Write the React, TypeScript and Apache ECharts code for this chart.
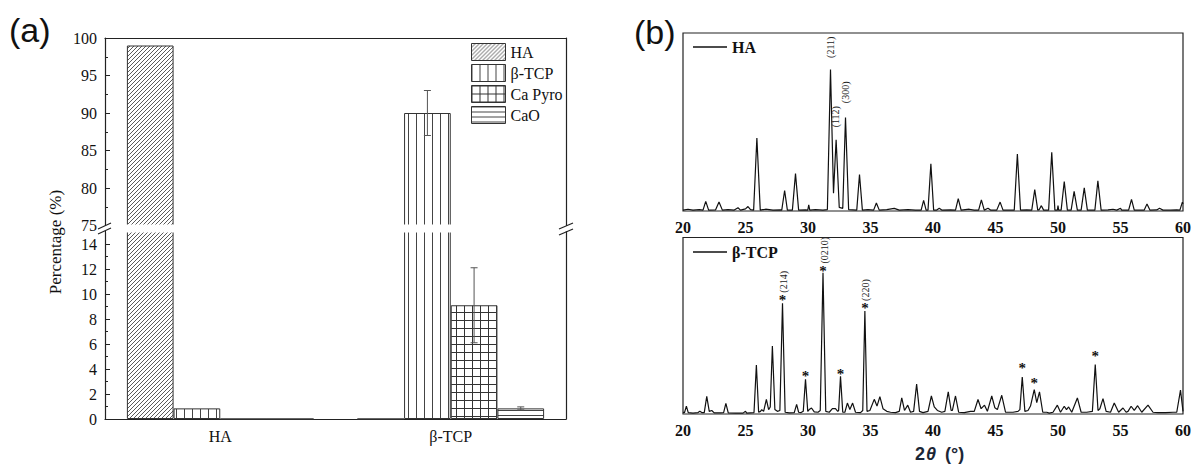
import React, { useEffect, useRef } from 'react';
import * as echarts from 'echarts';

// ---------- Panel (a): phase composition ----------
const categories = ['HA', 'β-TCP'];
const phaseNames = ['HA', 'β-TCP', 'Ca Pyro', 'CaO'];
const haShare = [99, 0];
const tcpShare = [0.85, 90];
const pyroShare = [0, 9.1];
const caoShare = [0, 0.85];
// [category index, phase index, mean, error]
const errorBars = [
  [1, 1, 90, 3],
  [1, 2, 9.1, 3],
  [1, 3, 0.85, 0.12],
];
const upperRange = [75, 100];
const upperInterval = 5;
const lowerRange = [0, 15];
const lowerInterval = 2;

// ---------- Panel (b): XRD patterns ----------
const thetaRange = [20, 60];
const thetaInterval = 5;
const haPattern = [
  [20.0, 0.5], [20.4, 1], [20.8, 0.5], [21.3, 0.8], [21.6, 0.5], [21.82, 5.4], [22.05, 0.5],
  [22.6, 0.6], [22.88, 5], [23.15, 0.5], [23.6, 0.8], [24.1, 0.5], [24.4, 1.8], [24.6, 0.5],
  [25.0, 1.2], [25.2, 2.5], [25.4, 0.8], [25.65, 0.5], [25.91, 41], [26.18, 0.5], [26.6, 1],
  [27.2, 0.5], [27.8, 0.6], [27.9, 0.5], [28.13, 11.5], [28.35, 0.5], [28.75, 0.5], [29.0, 21],
  [29.25, 0.5], [29.8, 0.6], [29.98, 0.5], [30.06, 3.5], [30.14, 0.5], [30.6, 0.8], [31.2, 0.5],
  [31.55, 0.8], [31.8, 79.5], [32.04, 10], [32.25, 40], [32.5, 2], [32.78, 1.5], [33.0, 52.5],
  [33.25, 0.8], [33.9, 0.5], [34.12, 20.5], [34.35, 0.5], [34.8, 0.8], [35.25, 0.5], [35.47, 4.5],
  [35.7, 0.5], [36.3, 0.8], [36.9, 1.5], [37.3, 0.5], [38.0, 0.8], [38.6, 0.5], [39.05, 0.5],
  [39.25, 6], [39.45, 0.5], [39.6, 0.5], [39.83, 26.5], [40.05, 0.5], [40.3, 0.5], [40.5, 1.5],
  [40.7, 0.5], [41.4, 0.6], [41.8, 0.5], [42.02, 7], [42.25, 0.5], [42.9, 1], [43.3, 0.5],
  [43.65, 0.5], [43.87, 6.3], [44.1, 0.5], [44.4, 1.5], [44.6, 0.5], [45.1, 0.5], [45.37, 5],
  [45.6, 0.5], [46.5, 0.5], [46.75, 32], [47.0, 0.5], [47.5, 0.6], [47.9, 0.5], [48.14, 12],
  [48.38, 0.5], [48.5, 0.8], [48.67, 3], [48.85, 0.5], [49.25, 0.5], [49.5, 33], [49.75, 0.5],
  [49.95, 0.5], [50.0, 3], [50.05, 0.5], [50.25, 0.5], [50.5, 16.6], [50.75, 0.5], [51.05, 0.5],
  [51.29, 11], [51.55, 0.5], [51.85, 0.5], [52.1, 13], [52.35, 0.5], [52.95, 0.5], [53.19, 17],
  [53.45, 0.5], [54.0, 0.6], [54.4, 1], [54.7, 0.5], [55.0, 1.5], [55.1, 0.5], [55.65, 0.5],
  [55.88, 6.5], [56.1, 0.5], [56.9, 0.5], [57.12, 4], [57.35, 0.5], [57.9, 0.6], [58.12, 1.5],
  [58.4, 0.5], [59.0, 0.5], [59.5, 0.6], [59.75, 0.5], [59.95, 5], [60.0, 4],
];
const tcpPattern = [
  [20.0, 1], [20.12, 0.8], [20.27, 4.5], [20.42, 0.8], [20.8, 0.5], [21.2, 0.8], [21.35, 1.5],
  [21.5, 0.8], [21.7, 0.8], [21.9, 10], [22.1, 1.5], [22.3, 2], [22.5, 0.6], [23.0, 0.6],
  [23.25, 0.8], [23.43, 6], [23.62, 0.6], [24.2, 0.5], [24.8, 0.5], [25.0, 1.5], [25.1, 0.5],
  [25.68, 0.8], [25.87, 27.7], [26.05, 1], [26.2, 1.5], [26.3, 2.5], [26.45, 1.5], [26.67, 8.3],
  [26.85, 2.5], [26.98, 4], [27.15, 38.5], [27.35, 2.5], [27.55, 1.5], [27.75, 2], [27.96, 62.7],
  [28.17, 1], [28.5, 0.6], [28.9, 0.8], [29.09, 5.5], [29.25, 1], [29.45, 0.8], [29.62, 1.5],
  [29.8, 19.7], [29.98, 1.5], [30.1, 2.5], [30.28, 3.4], [30.5, 1.2], [30.8, 1], [30.98, 2],
  [31.2, 80], [31.42, 1.5], [31.7, 1], [31.95, 3], [32.2, 3], [32.38, 1.5], [32.45, 2],
  [32.6, 21.4], [32.78, 1], [32.95, 1], [33.15, 6.2], [33.35, 2.5], [33.57, 6.2], [33.8, 1],
  [34.2, 0.8], [34.38, 2], [34.55, 58.4], [34.72, 1.5], [34.95, 2], [35.3, 8.3], [35.52, 4.5],
  [35.75, 9.8], [36.0, 3], [36.3, 1.5], [36.6, 1], [37.0, 0.8], [37.3, 1.5], [37.5, 9.1],
  [37.72, 2], [37.98, 5], [38.2, 1], [38.45, 1.5], [38.69, 16.9], [38.92, 1.5], [39.2, 0.8],
  [39.6, 1.5], [39.87, 10.2], [40.1, 4], [40.35, 2], [40.7, 1], [40.95, 1.5], [41.22, 12.5],
  [41.45, 2], [41.55, 2], [41.8, 10.2], [42.05, 1], [42.5, 0.8], [43.0, 1.5], [43.3, 1.5],
  [43.6, 8.2], [43.85, 3], [44.12, 5], [44.35, 1.5], [44.7, 10.2], [44.95, 3.5], [45.15, 2.5],
  [45.5, 10.6], [45.8, 1], [46.4, 1], [46.8, 1.5], [46.95, 2.5], [47.14, 21], [47.35, 1.5],
  [47.6, 2], [47.8, 4.5], [48.1, 13.8], [48.3, 6.5], [48.52, 12.5], [48.78, 1], [49.1, 1],
  [49.3, 0.5], [49.6, 1], [49.95, 5], [50.2, 1], [50.5, 4.4], [50.68, 2.5], [50.85, 4],
  [51.1, 1], [51.55, 9.1], [51.85, 1], [52.3, 1], [52.75, 1.5], [52.98, 28], [53.2, 2],
  [53.35, 3], [53.6, 8.7], [53.85, 1.5], [54.2, 1], [54.5, 6.2], [54.85, 1], [55.2, 3.4],
  [55.45, 1], [55.6, 1.5], [55.85, 4.4], [56.1, 2], [56.37, 4.7], [56.7, 1], [57.2, 5],
  [57.6, 1], [58.0, 0.8], [58.6, 0.8], [59.2, 1], [59.5, 1], [59.8, 13.5], [60.0, 1.5],
];
// peak annotations: [2θ, intensity at label base, text]
const haPlaneLabels = [
  [31.78, 86, '(211)'],
  [32.22, 47, '(112)'],
  [33.0, 60.6, '(300)'],
];
// β-TCP asterisk peaks: [2θ, intensity of asterisk]
const tcpStars = [
  [27.96, 66.5], [29.8, 23.1], [31.2, 83], [32.6, 24.4],
  [34.55, 61.8], [47.14, 27.7], [48.1, 19.5], [52.98, 34.7],
];
const tcpPlaneLabels = [
  [27.96, 66.5, '(214)'],
  [31.2, 83, '(0210)'],
  [34.55, 61.8, '(220)'],
];

const SERIF = "'Liberation Serif', 'Times New Roman', serif";
const SANS = "'Liberation Sans', Arial, sans-serif";

function makePattern(w: number, h: number, color: string, draw: (c: CanvasRenderingContext2D) => void) {
  const cv = document.createElement('canvas');
  cv.width = w;
  cv.height = h;
  const ctx = cv.getContext('2d') as CanvasRenderingContext2D;
  ctx.fillStyle = '#ffffff';
  ctx.fillRect(0, 0, w, h);
  ctx.fillStyle = color;
  draw(ctx);
  return { image: cv.toDataURL(), repeat: 'repeat', imageWidth: w, imageHeight: h } as any;
}

export default function App() {
  const ref = useRef<HTMLDivElement>(null);
  useEffect(() => {
    if (!ref.current) return;
    const chart = echarts.init(ref.current, null, { renderer: 'svg' });

    const patterns = [
      makePattern(4, 4, '#5a5a5a', (c) => { for (let i = 0; i < 4; i++) c.fillRect(i, 3 - i, 1, 1); }),
      makePattern(8, 8, '#444', (c) => c.fillRect(0, 0, 1, 8)),
      makePattern(8, 8, '#333', (c) => { c.fillRect(0, 0, 1, 8); c.fillRect(0, 0, 8, 1); }),
      makePattern(8, 5, '#444', (c) => c.fillRect(0, 0, 8, 1)),
    ];
    const shares = [haShare, tcpShare, pyroShare, caoShare];
    const gap = '19%';

    const barSeries: any[] = [];
    [0, 1].forEach((g) => {
      phaseNames.forEach((name, k) => {
        barSeries.push({
          type: 'bar',
          name,
          xAxisIndex: g,
          yAxisIndex: g === 0 ? 0 : 2,
          data: shares[k],
          barGap: '0%',
          barCategoryGap: gap,
          itemStyle: { color: patterns[k], borderColor: '#333', borderWidth: 1 },
          emphasis: { disabled: true },
          clip: true,
        });
      });
    });
    const errSeries = [0, 1].map((g) => ({
      type: 'custom',
      name: 'err' + g,
      xAxisIndex: g,
      yAxisIndex: g === 0 ? 0 : 2,
      clip: true,
      z: 5,
      encode: { x: 0, y: 2 },
      data: errorBars,
      renderItem: (params: any, api: any) => {
        const cat = api.value(0);
        const k = api.value(1);
        const v = api.value(2);
        const e = api.value(3);
        const band = api.size([1, 0])[0];
        const barW = (band * (1 - parseFloat(gap) / 100)) / phaseNames.length;
        const x = api.coord([cat, v])[0] + (k - (phaseNames.length - 1) / 2) * barW;
        const yTop = api.coord([cat, v + e])[1];
        const yBot = api.coord([cat, v - e])[1];
        const cap = 3.5;
        const st = { stroke: '#555', lineWidth: 1 };
        return {
          type: 'group',
          children: [
            { type: 'line', shape: { x1: x, y1: yTop, x2: x, y2: yBot }, style: st },
            { type: 'line', shape: { x1: x - cap, y1: yTop, x2: x + cap, y2: yTop }, style: st },
            { type: 'line', shape: { x1: x - cap, y1: yBot, x2: x + cap, y2: yBot }, style: st },
          ],
        };
      },
    }));

    const axisLine = { show: true, lineStyle: { color: '#222', width: 1.2 } };
    const yLabel = { fontFamily: SERIF, fontSize: 16, color: '#111', margin: 8 };
    const xrdXAxis = (gridIndex: number) => ({
      type: 'value',
      gridIndex,
      min: thetaRange[0],
      max: thetaRange[1],
      interval: thetaInterval,
      axisLine: { show: false },
      axisTick: { show: false },
      splitLine: { show: false },
      axisLabel: { fontFamily: SERIF, fontSize: 16, fontWeight: 'bold', color: '#111', margin: 8 },
    });

    const option: any = {
      animation: false,
      backgroundColor: '#fff',
      grid: [
        { left: 105, top: 38, width: 461, height: 187.5 },
        { left: 105, top: 231.5, width: 461, height: 187.5 },
        { left: 683, top: 33, width: 505, height: 178, show: true, borderColor: '#222', borderWidth: 1.2 },
        { left: 683, top: 237.5, width: 505, height: 176.5, show: true, borderColor: '#222', borderWidth: 1.2 },
      ],
      xAxis: [
        { type: 'category', gridIndex: 0, data: categories, position: 'top', axisLine, axisTick: { show: false }, axisLabel: { show: false } },
        { type: 'category', gridIndex: 1, data: categories, position: 'bottom', axisLine, axisTick: { show: false },
          axisLabel: { fontFamily: SERIF, fontSize: 16, color: '#111', margin: 9 } },
        xrdXAxis(2),
        xrdXAxis(3),
      ],
      yAxis: [
        { type: 'value', gridIndex: 0, position: 'left', min: upperRange[0], max: upperRange[1], interval: upperInterval,
          axisLine, axisTick: { show: true, inside: true, length: 5, lineStyle: { color: '#222' } },
          minorTick: { show: true, splitNumber: 2, length: 3, lineStyle: { color: '#222' } },
          splitLine: { show: false }, axisLabel: yLabel },
        { type: 'value', gridIndex: 0, position: 'right', min: upperRange[0], max: upperRange[1],
          axisLine, axisTick: { show: false }, axisLabel: { show: false }, splitLine: { show: false } },
        { type: 'value', gridIndex: 1, position: 'left', min: lowerRange[0], max: lowerRange[1], interval: lowerInterval,
          axisLine, axisTick: { show: true, inside: true, length: 5, lineStyle: { color: '#222' } },
          minorTick: { show: true, splitNumber: 2, length: 3, lineStyle: { color: '#222' } },
          splitLine: { show: false }, axisLabel: { ...yLabel, showMaxLabel: false } },
        { type: 'value', gridIndex: 1, position: 'right', min: lowerRange[0], max: lowerRange[1],
          axisLine, axisTick: { show: false }, axisLabel: { show: false }, splitLine: { show: false } },
        { type: 'value', gridIndex: 2, min: 0, max: 100, show: false },
        { type: 'value', gridIndex: 3, min: 0, max: 100, show: false },
      ],
      legend: [
        {
          data: phaseNames, orient: 'vertical', left: 471, top: 43, padding: 0, itemWidth: 34, itemHeight: 17, itemGap: 3,
          icon: 'rect', selectedMode: false,
          itemStyle: { borderColor: '#333', borderWidth: 1 },
          textStyle: { fontFamily: SERIF, fontSize: 16, color: '#111' },
        },
        {
          data: ['HA XRD'], left: 693, top: 39, padding: 0, itemWidth: 34, itemHeight: 1.5, icon: 'rect', selectedMode: false,
          formatter: (n: string) => n.replace(' XRD', ''),
          textStyle: { fontFamily: SERIF, fontSize: 16, fontWeight: 'bold', color: '#111' },
        },
        {
          data: ['β-TCP XRD'], left: 693, top: 244, padding: 0, itemWidth: 34, itemHeight: 1.5, icon: 'rect', selectedMode: false,
          formatter: (n: string) => n.replace(' XRD', ''),
          textStyle: { fontFamily: SERIF, fontSize: 16, fontWeight: 'bold', color: '#111' },
        },
      ],
      series: [
        ...barSeries,
        ...errSeries,
        { type: 'line', name: 'HA XRD', xAxisIndex: 2, yAxisIndex: 4, data: haPattern, showSymbol: false, color: '#111',
          lineStyle: { color: '#111', width: 1.2 }, emphasis: { disabled: true } },
        { type: 'line', name: 'β-TCP XRD', xAxisIndex: 3, yAxisIndex: 5, data: tcpPattern, showSymbol: false, color: '#111',
          lineStyle: { color: '#111', width: 1.2 }, emphasis: { disabled: true } },
      ],
    };
    chart.setOption(option);

    const breakStyle = { stroke: '#222', lineWidth: 1.2 };
    const titleColor = '#1b2636';
    const titleFont = (style: string) => ({ font: `${style} 18px ${SANS}`, lineHeight: 18, fill: titleColor, verticalAlign: 'middle' });
    const gfx: any[] = [
      { type: 'text', x: 9, y: 30, style: { text: '(a)', font: `34px ${SANS}`, fill: '#111', verticalAlign: 'middle' } },
      { type: 'text', x: 634, y: 32, style: { text: '(b)', font: `34px ${SANS}`, fill: '#111', verticalAlign: 'middle' } },
      { type: 'text', x: 55, y: 242, rotation: Math.PI / 2,
        style: { text: 'Percentage (%)', font: `17px ${SERIF}`, fill: '#111', align: 'center', verticalAlign: 'middle' } },
      { type: 'text', x: 915, y: 454, style: { text: '2', ...titleFont('bold') } },
      { type: 'text', x: 926, y: 454, style: { text: 'θ', ...titleFont('italic bold') } },
      { type: 'text', x: 945, y: 454, style: { text: '(°)', ...titleFont('bold') } },
      // white gap across the broken axis
      { type: 'rect', z: 100, shape: { x: 106, y: 224.6, width: 459, height: 7.8 }, style: { fill: '#fff' } },
      // axis break marks
      { type: 'line', z: 101, shape: { x1: 98, y1: 229, x2: 111, y2: 223 }, style: breakStyle },
      { type: 'line', z: 101, shape: { x1: 98, y1: 234, x2: 111, y2: 228 }, style: breakStyle },
      { type: 'line', z: 101, shape: { x1: 559, y1: 229, x2: 573, y2: 223 }, style: breakStyle },
      { type: 'line', z: 101, shape: { x1: 559, y1: 235, x2: 573, y2: 229 }, style: breakStyle },
    ];
    haPlaneLabels.forEach(([x, y, t]) => {
      const p = chart.convertToPixel({ gridIndex: 2 } as any, [x as number, y as number]) as number[];
      gfx.push({ type: 'text', x: p[0], y: p[1], rotation: Math.PI / 2,
        style: { text: t, font: `10px ${SERIF}`, fill: '#222', align: 'left', verticalAlign: 'middle' } });
    });
    tcpStars.forEach(([x, y]) => {
      const p = chart.convertToPixel({ gridIndex: 3 } as any, [x, y]) as number[];
      gfx.push({ type: 'text', x: p[0], y: p[1] + 3,
        style: { text: '*', font: `bold 15px ${SERIF}`, fill: '#111', align: 'center', verticalAlign: 'middle' } });
    });
    tcpPlaneLabels.forEach(([x, y, t]) => {
      const p = chart.convertToPixel({ gridIndex: 3 } as any, [x as number, y as number]) as number[];
      gfx.push({ type: 'text', x: p[0] + 1, y: p[1] - 4, rotation: Math.PI / 2,
        style: { text: t, font: `10px ${SERIF}`, fill: '#222', align: 'left', verticalAlign: 'middle' } });
    });
    chart.setOption({ graphic: { elements: gfx } });

    return () => chart.dispose();
  }, []);
  return <div ref={ref} style={{ position: 'absolute', left: 0, top: 0, width: 1194, height: 465, background: '#fff' }} />;
}
